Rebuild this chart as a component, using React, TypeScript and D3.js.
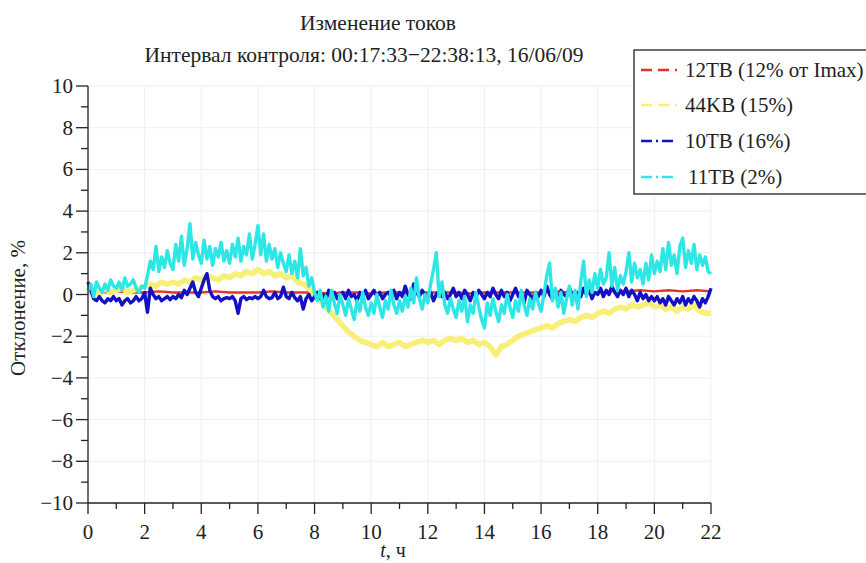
import * as d3 from "d3"

// 11TB, cyan, every 0.1 h
const cyan11 = [
  0.2, 0.5, -0.1, 0.6, 0.3, 0.1, 0.5, 0.2, 0.7, 0.4,
  0.3, 0.6, 0.2, 0.8, 0.4, 0.5, 0.7, 0.3, 0.1, 0.4,
  0.3, 0.9, 1.6, 1.2, 2.3, 1.1, 1.8, 1.3, 2.1, 1.5,
  1.2, 2.4, 1.6, 2.8, 1.4, 2.2, 3.4, 1.7, 2.5, 1.9,
  1.5, 2.6, 1.7, 2.3, 1.4, 2.2, 1.8, 2.5, 1.6, 2.1,
  1.5, 2.4, 1.8, 2.7, 1.6, 2.3, 1.9, 2.9, 1.7, 2.4,
  3.3, 1.9, 2.9, 1.6, 2.4, 1.7, 2.2, 1.3, 2.0, 1.5,
  1.1, 1.9, 1.0, 1.6, 0.8, 2.2, 0.9, 1.3, 0.4, 0.8,
  0.1, -0.3, 0.2, -0.6, -0.1, -0.8, 0.2, -0.4, -0.9, 0.0,
  -0.5, -1.0, -0.2, -0.7, -1.2, -0.3, -0.8, 0.1, -0.6, -1.0,
  -0.4, -0.9, 0.0, -0.6, -1.1, -0.3, -0.7, 0.2, -0.5, -0.9,
  -0.3, -0.8, -0.1, -0.6, 0.3, -0.4, 0.8, -0.2, -0.7, 0.0,
  -0.4, 0.5, 1.2, 2.0, -0.1, 0.6, -0.5, -0.9, -0.2, -0.7,
  -1.1, -0.3, -0.8, -0.1, -1.3, -0.5, -0.9, 0.1, -0.6, -1.2,
  -1.6, -0.4, -1.0, -0.2, -0.8, -1.3, -0.5, -0.9, 0.0, -0.6,
  -1.1, -0.3, -0.8, 0.2, -0.5, -1.0, -0.2, -0.7, 0.1, -0.4,
  -0.8, 0.0, 0.9, 1.5, -0.3, 0.3, -0.6, 0.1, -0.9, -0.2,
  0.4, -0.5, 0.2, -0.7, 0.6, 1.6, -0.1, 0.7, 0.1, 1.0,
  0.3, 1.2, 0.5, 0.8, 2.0, 0.4, 1.3, 0.2, 0.9, 0.5,
  1.1, 2.0, 0.6, 1.5, 0.8, 1.2, 0.5, 1.5, 0.7, 1.9,
  1.0, 1.6, 1.1, 2.2, 1.2, 2.5, 1.4, 1.9, 1.0, 2.3,
  2.7, 1.3, 2.1, 1.5, 2.4, 1.2, 1.9, 1.4, 1.8, 1.1,
  1.0,
]

// 10TB, blue, every 0.1 h
const blue10 = [
  0.6, 0.2, -0.2, -0.3, -0.1, -0.3, -0.4, -0.2, -0.3, -0.1,
  -0.3, -0.2, -0.5, -0.3, -0.2, -0.4, -0.3, -0.1, -0.3, -0.2,
  0.1, -0.85, 0.3, 0.0, -0.2, -0.1, -0.3, -0.2, -0.1, -0.25,
  -0.1, -0.2, 0.0, -0.15, 0.2, 0.0, 0.3, 0.6, 0.1, -0.1,
  0.3, 0.7, 1.0, 0.2, -0.1, -0.2, -0.1, -0.3, -0.2, -0.15,
  -0.2, -0.1, -0.3, -0.9, -0.2, -0.1, -0.25, -0.15, -0.2, -0.1,
  -0.2, -0.1, 0.2, -0.1, -0.2, -0.15, 0.1, -0.2, -0.1, 0.35,
  -0.1, -0.2, 0.1, -0.15, -0.3, -0.1, -0.7, -0.2, 0.0, -0.3,
  -0.1, 0.1, -0.2, 0.0, -0.3, 0.2, -0.1, 0.1, -0.2, 0.0,
  0.1, -0.2, 0.2, -0.1, 0.0, -0.3, 0.1, -0.1, 0.2, -0.2,
  0.0, 0.2, -0.1, 0.1, -0.2, 0.0, 0.1, -0.1, 0.2, -0.2,
  0.1, -0.1, 0.4, 0.0, -0.2, 0.5, 0.1, -0.1, 0.2, 0.0,
  -0.2, 0.1, -0.3, 0.0, 0.2, -0.1, 0.1, -0.2, 0.0, 0.3,
  -0.1, 0.1, -0.2, 0.2, 0.0, -0.3, 0.1, -0.1, 0.2, 0.0,
  -0.2, 0.1, -0.1, 0.3, 0.0, -0.2, 0.2, -0.1, 0.1, -0.3,
  0.0, 0.3, -0.1, 0.1, -0.4, 0.2, 0.0, -0.2, 0.1, -0.1,
  0.2, -0.1, 0.4, 0.0, -0.2, 0.1, -0.3, 0.2, 0.0, -0.1,
  0.3, 0.0, -0.2, 0.1, -0.1, 0.3, 0.0, 0.2, -0.2, 0.1,
  0.0, 0.3, -0.1, 0.2, 0.0, 0.4, 0.1, -0.1, 0.2, 0.0,
  0.3, -0.1, 0.2, 0.0, -0.3, 0.1, -0.2, 0.0, -0.3, -0.1,
  -0.3, -0.1, -0.4, -0.2, -0.5, -0.1, -0.3, -0.5, -0.2, -0.4,
  -0.1, -0.5, -0.2, -0.4, -0.1, -0.3, -0.6, -0.2, -0.4, -0.1,
  0.3,
]

// 44KB, yellow, every 0.2 h
const yellow44 = [
  0.1, 0.2, 0.0, 0.3, 0.1,
  0.2, 0.3, 0.1, 0.2, 0.3,
  0.4, 0.5, 0.4, 0.6, 0.5,
  0.6, 0.5, 0.7, 0.6, 0.8,
  0.7, 0.9, 0.8, 0.7, 0.9,
  0.8, 1.0, 0.9, 1.1, 1.0,
  1.2, 1.0, 1.1, 0.9, 1.0,
  0.8, 0.9, 0.6, 0.5, 0.3,
  0.0, -0.3, -0.6, -0.9, -1.2,
  -1.5, -1.8, -2.0, -2.2, -2.3,
  -2.4, -2.5, -2.3, -2.5, -2.4,
  -2.3, -2.5, -2.4, -2.3, -2.2,
  -2.3, -2.2, -2.4, -2.2, -2.1,
  -2.2, -2.1, -2.3, -2.2, -2.4,
  -2.3, -2.5, -2.9, -2.5, -2.4,
  -2.2, -2.0, -1.9, -1.8, -1.7,
  -1.6, -1.5, -1.6, -1.4, -1.3,
  -1.2, -1.3, -1.1, -1.0, -1.1,
  -0.9, -0.8, -0.9, -0.7, -0.6,
  -0.7, -0.5, -0.6, -0.5, -0.4,
  -0.6, -0.5, -0.7, -0.6, -0.8,
  -0.6, -0.7, -0.5, -0.8, -0.9,
  -0.9,
]

// 12TB, red, every 0.5 h
const red12 = [
  0.1, 0.1, 0.15, 0.1, 0.1, 0.15, 0.1, 0.1, 0.1, 0.15,
  0.1, 0.1, 0.1, 0.15, 0.1, 0.1, 0.1, 0.05, 0.1, 0.1,
  0.05, 0.1, 0.1, 0.05, 0.1, 0.1, 0.1, 0.05, 0.1, 0.1,
  0.1, 0.1, 0.1, 0.15, 0.1, 0.1, 0.1, 0.15, 0.15, 0.2,
  0.15, 0.2, 0.15, 0.2, 0.15,
]

const xTicks = [0, 2, 4, 6, 8, 10, 12, 14, 16, 18, 20, 22]
const yTicks = [10, 8, 6, 4, 2, 0, -2, -4, -6, -8, -10]

const series = [
  { name: "12TB (12% от Imax)", values: red12, step: 0.5, color: "#e3342a", width: 2.5, dash: "11,6" },
  { name: "44KB (15%)", values: yellow44, step: 0.2, color: "#f7ef77", width: 5.5, dash: "11,6" },
  { name: "10TB (16%)", values: blue10, step: 0.1, color: "#1212c4", width: 3.4, dash: "11,4,2,4" },
  { name: "11TB (2%)", values: cyan11, step: 0.1, color: "#2ee6e6", width: 3.4, dash: "11,4,2,4" },
]

const W = 866
const H = 563
const font = "'Liberation Serif', 'Times New Roman', Times, serif"

export default function App() {
  const x = d3.scaleLinear().domain([0, 22]).range([88, 711])
  const y = d3.scaleLinear().domain([-10, 10]).range([503, 86])
  const minorX = d3.range(1, 22, 2)
  const minorY = d3.range(-9, 10, 2)

  const line = (step: number) =>
    d3.line<number>().x((_, i) => x(i * step)).y((d) => y(d))

  return (
    <svg width={W} height={H}
      style={{ position: "absolute", left: 0, top: 0, background: "#fff", fontFamily: font }}>
      <rect width={W} height={H} fill="#fff" />
      {/* grid */}
      {xTicks.slice(1).map((t) => (
        <line key={"gx" + t} x1={x(t)} x2={x(t)} y1={y(-10)} y2={y(10)} stroke="#efefef" />
      ))}
      {yTicks.slice(0, -1).map((t) => (
        <line key={"gy" + t} x1={x(0)} x2={x(22)} y1={y(t)} y2={y(t)} stroke="#efefef" />
      ))}

      {/* data */}
      {series.map((s) => (
        <path key={s.name} d={line(s.step)(s.values) ?? ""} fill="none" stroke={s.color}
          strokeWidth={s.width} strokeLinejoin="round" />
      ))}

      {/* axes */}
      <line x1={x(0)} x2={x(0)} y1={y(-10)} y2={y(10)} stroke="#222" strokeWidth={1.3} />
      <line x1={x(0)} x2={x(22)} y1={y(-10)} y2={y(-10)} stroke="#222" strokeWidth={1.3} />
      {yTicks.map((t) => (
        <g key={"ty" + t}>
          <line x1={x(0) - 12} x2={x(0)} y1={y(t)} y2={y(t)} stroke="#222" strokeWidth={1.3} />
          <text x={73} y={y(t) + 7} textAnchor="end" fontSize={21} fill="#222">
            {t < 0 ? "\u2212" + Math.abs(t) : t}
          </text>
        </g>
      ))}
      {minorY.map((t) => (
        <line key={"my" + t} x1={x(0) - 7} x2={x(0)} y1={y(t)} y2={y(t)} stroke="#222" strokeWidth={1.3} />
      ))}
      {xTicks.map((t) => (
        <g key={"tx" + t}>
          <line x1={x(t)} x2={x(t)} y1={y(-10)} y2={y(-10) + 11} stroke="#222" strokeWidth={1.3} />
          <text x={x(t)} y={539} textAnchor="middle" fontSize={21} fill="#222">{t}</text>
        </g>
      ))}
      {minorX.map((t) => (
        <line key={"mx" + t} x1={x(t)} x2={x(t)} y1={y(-10)} y2={y(-10) + 6} stroke="#222" strokeWidth={1.3} />
      ))}

      {/* labels */}
      <text x={393} y={557} textAnchor="middle" fontSize={20} fill="#222">
        <tspan fontStyle="italic">t</tspan>, ч
      </text>
      <text transform="translate(25,308) rotate(-90)" textAnchor="middle" fontSize={21} fill="#222">
        Отклонение, %
      </text>
      <text x={378} y={30} textAnchor="middle" fontSize={21.5} fill="#222">Изменение токов</text>
      <text x={364} y={62} textAnchor="middle" fontSize={21.5} fill="#222">
        Интервал контроля: 00:17:33−22:38:13, 16/06/09
      </text>

      {/* legend */}
      <rect x={634} y={50} width={240} height={144} fill="#fff" stroke="#222" strokeWidth={1.3} />
      {series.map((s, i) => {
        const ly = [70, 105, 141, 177][i]
        return (
          <g key={"lg" + i}>
            <line x1={641} x2={677} y1={ly} y2={ly} stroke={s.color} strokeWidth={2.5} strokeDasharray={s.dash} />
            <text x={i === 3 ? 688 : 685} y={ly + 7} fontSize={21} fill="#222">{s.name}</text>
          </g>
        )
      })}
    </svg>
  )
}
